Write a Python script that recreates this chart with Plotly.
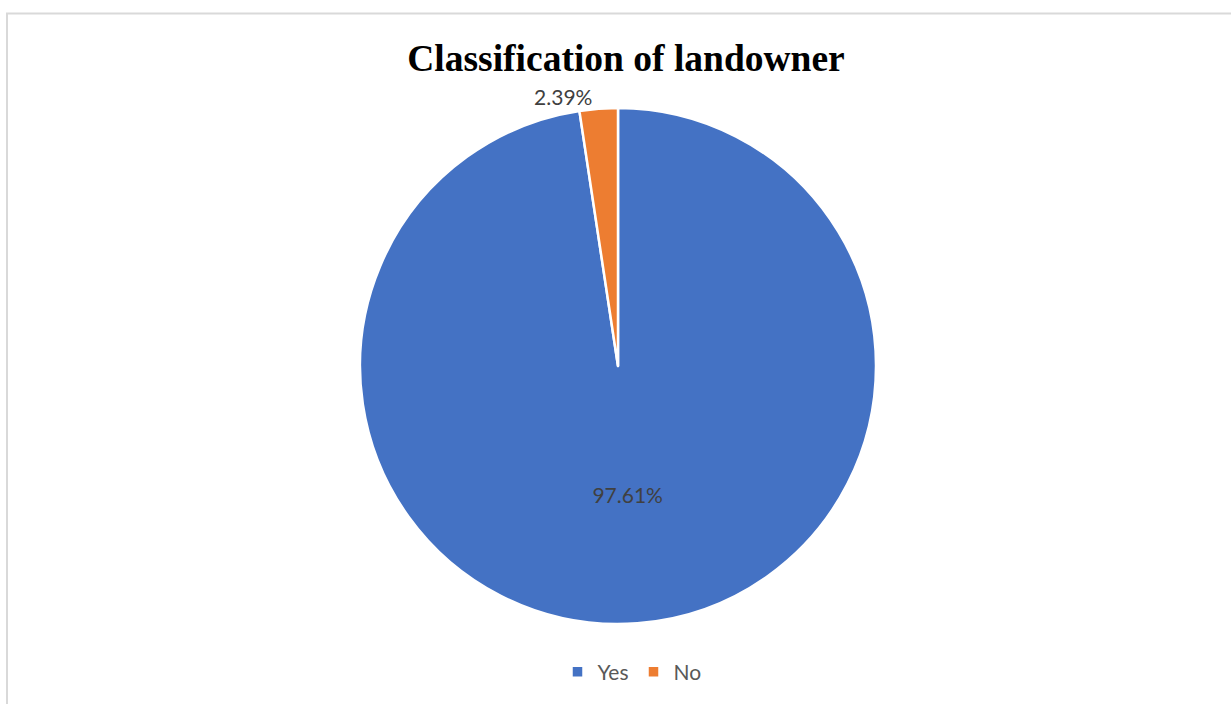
import plotly.graph_objects as go

categories = ["Yes", "No"]
values = [97.61, 2.39]
colors = ["#4472C4", "#ED7D31"]
title_text = "Classification of landowner"

W, H = 1231, 704
cx, cy, r = 618, 366, 258

fig = go.Figure(go.Pie(
    labels=categories,
    values=values,
    sort=False,
    direction="clockwise",
    rotation=0,
    marker=dict(colors=colors, line=dict(color="white", width=2.5)),
    texttemplate="%{value:.2f}%",
    textposition=["inside", "outside"],
    insidetextorientation="horizontal",
    textfont=dict(family="Lato", size=21, color="#404040"),
    outsidetextfont=dict(family="Lato", size=21, color="#404040"),
    domain=dict(x=[(cx - r) / W, (cx + r) / W], y=[(H - cy - r) / H, (H - cy + r) / H]),
    hoverinfo="label+percent",
))

fig.update_layout(
    width=W, height=H,
    margin=dict(l=0, r=0, t=0, b=0),
    paper_bgcolor="white",
    title=dict(text=title_text, x=626 / W, xanchor="center", y=1 - 58 / H, yanchor="middle",
               font=dict(family="Liberation Serif", size=37.5, color="black", weight="bold")),
    legend=dict(orientation="h", x=632 / W, xanchor="center", y=1 - 672 / H, yanchor="middle",
                font=dict(family="Lato", size=21, color="#595959"), itemwidth=30),
    shapes=[dict(type="rect", xref="paper", yref="paper",
                 x0=7 / W, x1=1.01, y0=-0.01, y1=1 - 13.5 / H,
                 line=dict(color="#D9D9D9", width=2), fillcolor="rgba(0,0,0,0)", layer="below")],
)

fig.write_html("out.html", config={"displayModeBar": False},
               post_script="document.body.style.margin='0';")
